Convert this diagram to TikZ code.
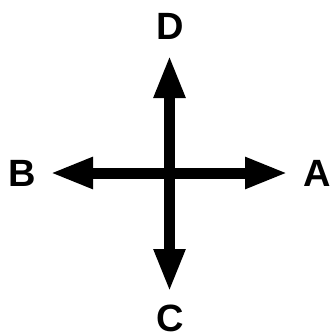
\documentclass[tikz,border=0pt]{standalone}
\usepackage{fontspec}
\setmainfont{Liberation Sans}
\usetikzlibrary{arrows.meta}
\tikzset{
  dirarrow/.style={-{Triangle[length=43pt,width=29pt]},line width=11pt},
  dirlabel/.style={font=\fontsize{38}{38}\selectfont\bfseries,inner sep=0pt}
}

\begin{document}
\begin{tikzpicture}[x=1pt,y=-1pt]
  \useasboundingbox (0,0) rectangle (332,335);
  % centre and the four tips
  \coordinate (mid) at (169.5,173);
  \coordinate (east) at (288,173);
  \coordinate (west) at (50,173);
  \coordinate (north) at (169.5,55);
  \coordinate (south) at (169.5,292);

  % labels
  \node[dirlabel] (lblA) at (317,173.5) {A};
  \node[dirlabel] (lblB) at (22.5,173.5) {B};
  \node[dirlabel] (lblC) at (170,318) {C};
  \node[dirlabel] (lblD) at (170,26.5) {D};

  % arrows
  \draw[dirarrow] (mid) -- (east);
  \draw[dirarrow] (mid) -- (west);
  \draw[dirarrow] (mid) -- (north);
  \draw[dirarrow] (mid) -- (south);
\end{tikzpicture}
\end{document}
